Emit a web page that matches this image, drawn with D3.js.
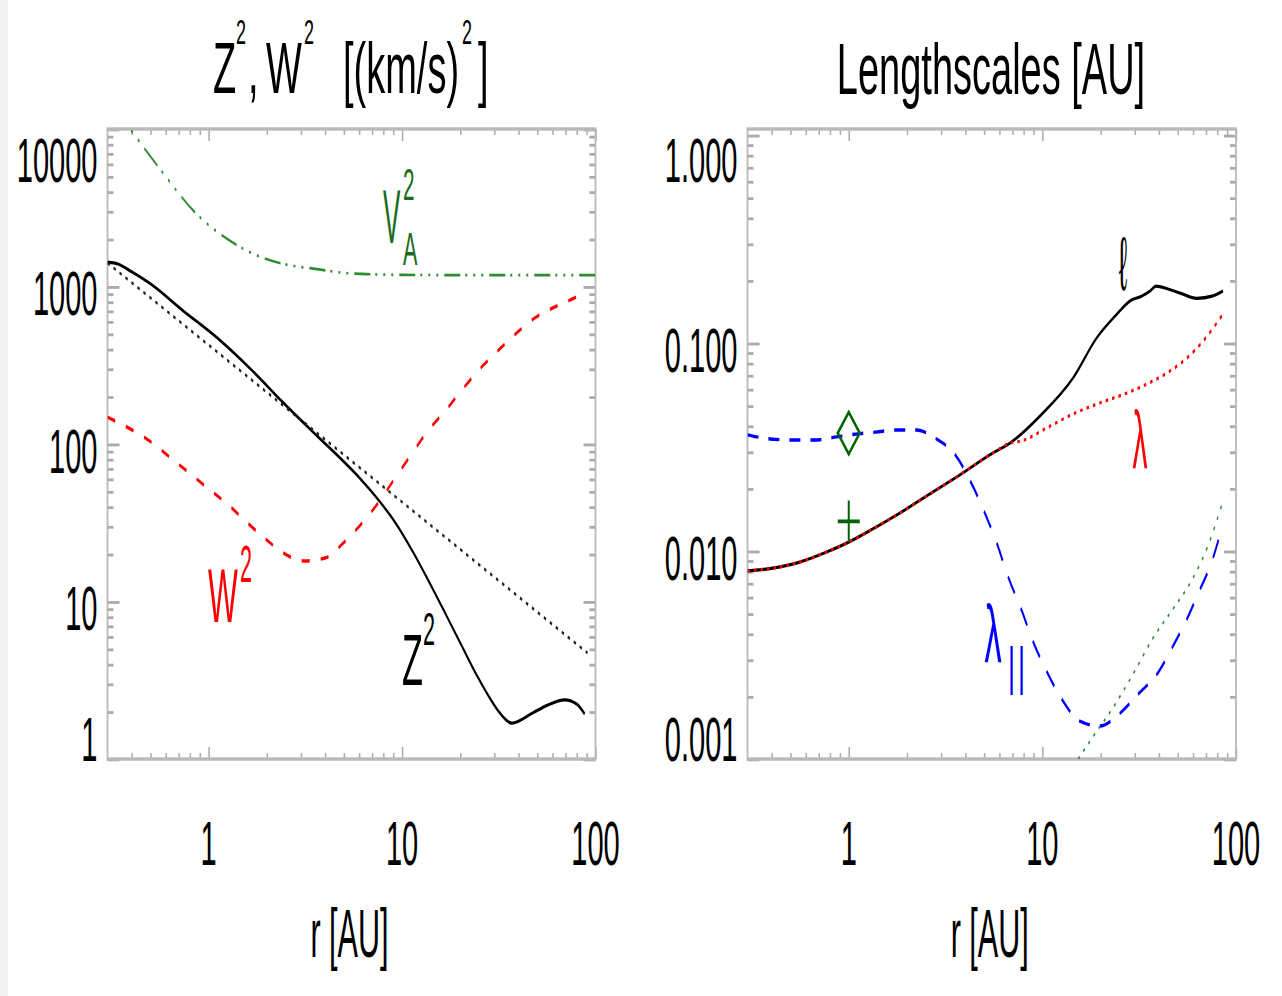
<!DOCTYPE html>
<html><head><meta charset="utf-8">
<script src="https://cdn.jsdelivr.net/npm/d3@7"></script>
<style>
html,body{margin:0;padding:0;background:#fff;}
svg{display:block;}
text{font-family:"Liberation Sans", Arial, Helvetica, sans-serif;}
</style></head><body>
<svg id="chart" width="1282" height="996"></svg>
<script>
// ---------------- data ----------------
// Left panel: Z^2, W^2, V_A^2 in (km/s)^2 versus r [AU]
const rZ2  = [0.30, 0.34, 0.40, 0.50, 0.74, 1.11, 1.65, 2.44, 3.65, 4.94, 6.04, 7.41, 9.18, 11.4, 13.9, 17.0, 20.6, 24.6, 28.4, 32.0, 36.9, 47.3, 56.6, 69.3, 80.0, 87.9];
const Z2   = [1430, 1390, 1240, 1040, 700, 471, 299, 182, 112, 78.3, 60.8, 45.4, 32.0, 20.6, 13.1, 8.09, 5.07, 3.32, 2.44, 1.96, 1.69, 1.96, 2.20, 2.37, 2.23, 1.93];
const rZ2asym = [0.30, 1.0, 10.0, 91.0];
const Z2asym  = [1410, 425, 42.8, 4.71];
const rW2  = [0.30, 0.514, 0.637, 0.807, 1.0, 1.25, 1.59, 1.97, 2.44, 3.09, 4.01, 4.97, 6.22, 7.52, 9.20, 11.3, 13.6, 16.7, 20.6, 25.2, 31.2, 39.1, 48.5, 60.0, 78.0, 87.8];
const W2   = [148, 101, 81.5, 64.5, 51.8, 41.6, 31.5, 24.9, 20.3, 18.1, 18.9, 23.5, 31.5, 42.2, 60.8, 87.7, 121, 162, 224, 299, 389, 507, 631, 730, 846, 910];
const rVA2 = [0.30, 0.41, 0.586, 0.837, 1.25, 1.71, 2.44, 3.64, 5.0, 7.0, 10.0, 30.0, 100.0];
const VA2  = [15500, 9300, 5180, 3015, 2000, 1608, 1390, 1290, 1220, 1195, 1185, 1180, 1180];

// Right panel: lengthscales [AU] versus r [AU]
const rEll = [0.30, 0.405, 0.558, 0.769, 1.0, 1.33, 1.83, 2.62, 3.61, 5.55, 6.79, 9.70, 14.4, 19.1, 24.3, 28.5, 32.5, 36.0, 38.6, 44.5, 51.4, 62.8, 75.2, 85.7];
const ell  = [0.00802, 0.00828, 0.00885, 0.00989, 0.01104, 0.01276, 0.0152, 0.0188, 0.0227, 0.0296, 0.0330, 0.0445, 0.0679, 0.106, 0.138, 0.160, 0.168, 0.178, 0.188, 0.182, 0.174, 0.164, 0.168, 0.178];
const rLam = [0.30, 0.405, 0.558, 0.769, 1.0, 1.33, 1.83, 2.62, 3.61, 5.55, 6.79, 7.93, 10.5, 14.4, 19.8, 27.3, 34.7, 44.0, 55.8, 67.5, 85.7];
const lam  = [0.00802, 0.00828, 0.00885, 0.00989, 0.01104, 0.01276, 0.0152, 0.0188, 0.0227, 0.0296, 0.0330, 0.0340, 0.0390, 0.0456, 0.0515, 0.0575, 0.0636, 0.0718, 0.0848, 0.102, 0.138];
const rLpar = [0.30, 0.405, 0.52, 0.667, 0.847, 1.09, 1.38, 1.77, 2.25, 2.85, 3.53, 4.32, 5.05, 5.82, 6.63, 7.84, 8.93, 10.5, 12.6, 15.6, 19.8, 25.2, 31.2, 39.1, 46.7, 55.8, 63.6, 76.1, 85.7];
const lpar  = [0.0362, 0.0345, 0.0342, 0.0342, 0.0353, 0.0365, 0.0373, 0.0382, 0.0382, 0.0345, 0.0292, 0.0210, 0.0152, 0.0109, 0.00759, 0.00515, 0.00369, 0.00265, 0.00194, 0.00152, 0.00144, 0.00166, 0.00205, 0.00256, 0.00342, 0.00471, 0.00621, 0.00925, 0.0136];
const rGreen = [15.3, 19.1, 23.1, 29.4, 37.3, 47.2, 59.9, 70.8, 85.7];
const green  = [0.001, 0.00136, 0.00176, 0.00256, 0.00382, 0.00526, 0.00741, 0.0103, 0.0174];
const diamondPt = [1.0, 0.0369];
const plusPt    = [1.0, 0.0139];

// axes
const xDomain = [0.3, 100];
const xMajor = [1, 10, 100];
const xMinor = [0.4,0.5,0.6,0.7,0.8,0.9,2,3,4,5,6,7,8,9,20,30,40,50,60,70,80,90];
const yLeftDomain = [1, 10000];
const yLeftMajor = [1, 10, 100, 1000, 10000];
const yLeftLabels = ["1", "10", "100", "1000", "10000"];
const yLeftMinor = [2,3,4,5,6,7,8,9,20,30,40,50,60,70,80,90,200,300,400,500,600,700,800,900,2000,3000,4000,5000,6000,7000,8000,9000];
const yRightDomain = [0.001, 1.07];
const yRightMajor = [0.001, 0.01, 0.1, 1];
const yRightLabels = ["0.001", "0.010", "0.100", "1.000"];
const yRightMinor = [0.002,0.003,0.004,0.005,0.006,0.007,0.008,0.009,0.02,0.03,0.04,0.05,0.06,0.07,0.08,0.09,0.2,0.3,0.4,0.5,0.6,0.7,0.8,0.9];

// ---------------- drawing ----------------
const K = 1.9;              // vertical stretch of the whole figure
const TOP = 129, BOT = 759; // screen px
const svg = d3.select("#chart");
svg.append("rect").attr("x",0).attr("y",0).attr("width",8).attr("height",996).attr("fill","#f2f2f2");
const root = svg.append("g").attr("transform", `scale(1,${K})`);

function txt(parent, s, x, yScreen, size, o = {}) {
  return parent.append("text")
    .attr("transform", `translate(${x},${yScreen / K}) scale(${o.tx || 1},1)`)
    .attr("font-size", size)
    .attr("text-anchor", o.anchor || "start")
    .attr("fill", o.fill || "#000")
    .attr("font-family", o.family || null)
    .attr("letter-spacing", o.ls || null)
    .text(s);
}

function makePanel(id, x0, x1, yDomain, yMajor, yMinor, yLabels) {
  const x = d3.scaleLog().domain(xDomain).range([x0, x1]);
  const y = d3.scaleLog().domain(yDomain).range([BOT / K, TOP / K]);
  const g = root.append("g");
  const clip = g.append("clipPath").attr("id", "clip" + id);
  clip.append("rect").attr("x", x0).attr("y", TOP / K).attr("width", x1 - x0).attr("height", (BOT - TOP) / K);

  const tickCol = "#ababab";
  const MAJ = 12, MIN = 6;
  function styleAxis(sel) {
    sel.attr("color", tickCol);
    sel.select(".domain").remove();
    sel.selectAll("line").attr("stroke-width", 1.5);
  }
  const ax = g.append("g");
  ax.append("g").attr("transform", `translate(0,${BOT / K})`).call(d3.axisBottom(x).tickValues(xMajor).tickSize(-MAJ / K).tickFormat("")).call(styleAxis);
  ax.append("g").attr("transform", `translate(0,${BOT / K})`).call(d3.axisBottom(x).tickValues(xMinor).tickSize(-MIN / K).tickFormat("")).call(styleAxis);
  ax.append("g").attr("transform", `translate(0,${TOP / K})`).call(d3.axisTop(x).tickValues(xMajor).tickSize(-MAJ / K).tickFormat("")).call(styleAxis);
  ax.append("g").attr("transform", `translate(0,${TOP / K})`).call(d3.axisTop(x).tickValues(xMinor).tickSize(-MIN / K).tickFormat("")).call(styleAxis);
  ax.append("g").attr("transform", `translate(${x0},0)`).call(d3.axisLeft(y).tickValues(yMajor).tickSize(-MAJ).tickFormat("")).call(styleAxis);
  ax.append("g").attr("transform", `translate(${x0},0)`).call(d3.axisLeft(y).tickValues(yMinor).tickSize(-MIN).tickFormat("")).call(styleAxis);
  ax.append("g").attr("transform", `translate(${x1},0)`).call(d3.axisRight(y).tickValues(yMajor).tickSize(-MAJ).tickFormat("")).call(styleAxis);
  ax.append("g").attr("transform", `translate(${x1},0)`).call(d3.axisRight(y).tickValues(yMinor).tickSize(-MIN).tickFormat("")).call(styleAxis);
  g.append("rect").attr("x", x0).attr("y", TOP / K).attr("width", x1 - x0).attr("height", (BOT - TOP) / K)
    .attr("fill", "none").attr("stroke", "#b9b9b9").attr("stroke-width", 1.8);

  // tick labels
  const lab = g.append("g");
  yMajor.forEach((t, i) => {
    let c = y(t) * K + 6;
    c = Math.max(TOP + 8 + 22.5, Math.min(BOT + 2 - 22.5, c));
    txt(lab, yLabels[i], x0 - 10, c + 22.5, 33, { anchor: "end", tx: 0.88 });
  });
  xMajor.forEach(t => {
    txt(lab, String(t), x(t), 865, 33, { anchor: "middle", tx: 0.88 });
  });
  txt(lab, "r [AU]", (x0 + x1) / 2 - 2, 957, 36, { anchor: "middle", tx: 0.85 });

  const plot = g.append("g").attr("clip-path", `url(#clip${id})`);
  return { x, y, g, plot };
}

function curve(P, rs, vs, style) {
  const line = d3.line().x(d => P.x(d[0])).y(d => P.y(d[1])).curve(d3.curveMonotoneX);
  P.plot.append("path").datum(rs.map((r, i) => [r, vs[i]]))
    .attr("d", line).attr("fill", "none")
    .attr("stroke", style.color).attr("stroke-width", style.width)
    .attr("stroke-dasharray", style.dash || null);
}

// ----- Left panel -----
const L = makePanel("L", 107.5, 595.5, yLeftDomain, yLeftMajor, yLeftMinor, yLeftLabels);
curve(L, rZ2, Z2, { color: "#000", width: 1.7 });
curve(L, rZ2asym, Z2asym, { color: "#222", width: 1.5, dash: "2.5,4" });
curve(L, rW2, W2, { color: "#ff0000", width: 1.8, dash: "8,11" });
curve(L, rVA2, VA2, { color: "#2e8b2e", width: 1.4, dash: "16,5,2,6,2,6,2,6" });

// left title: Z^2, W^2 [(km/s)^2]
const tl = L.g.append("g");
txt(tl, "Z", 213, 93, 38);
txt(tl, "2", 236, 44, 18);
txt(tl, ",", 248, 93, 38);
txt(tl, "W", 266, 93, 38);
txt(tl, "2", 304, 44, 18);
txt(tl, "[(km/s)", 343, 93, 38);
txt(tl, "2", 462, 44, 18);
txt(tl, "]", 478, 93, 38);

// left labels
const VG = "#1a6b1a";
txt(L.g, "V", 383, 243, 40, { tx: 0.65, fill: VG });
txt(L.g, "2", 403, 200, 23, { tx: 0.9, fill: VG });
txt(L.g, "A", 403, 265, 24, { tx: 0.9, fill: VG });
txt(L.g, "W", 208, 622, 39.5, { tx: 0.8, fill: "#ff0000" });
txt(L.g, "2", 240, 582, 27, { tx: 0.8, fill: "#ff0000" });
txt(L.g, "Z", 402, 685, 38, { tx: 0.9 });
txt(L.g, "2", 423, 645, 24, { tx: 0.9 });

// ----- Right panel -----
const R = makePanel("R", 747.5, 1236, yRightDomain, yRightMajor, yRightMinor, yRightLabels);
curve(R, rEll, ell, { color: "#000", width: 1.7 });
curve(R, rLam, lam, { color: "#ff0000", width: 1.7, dash: "2.5,4" });
curve(R, rLpar, lpar, { color: "#0000ff", width: 1.8, dash: "11,10" });
curve(R, rGreen, green, { color: "#2e8b2e", width: 1.3, dash: "2,4.5" });

// markers
const MG = "#006400";
{
  const cx = R.x(diamondPt[0]), cy = R.y(diamondPt[1]), w = 11, h = 11;
  R.g.append("path").attr("d", `M${cx},${cy - h}L${cx + w},${cy}L${cx},${cy + h}L${cx - w},${cy}Z`)
    .attr("fill", "none").attr("stroke", MG).attr("stroke-width", 2);
  const px = R.x(plusPt[0]), py = R.y(plusPt[1]);
  R.g.append("path").attr("d", `M${px - 11},${py}H${px + 11}M${px},${py - 11}V${py + 11}`)
    .attr("fill", "none").attr("stroke", MG).attr("stroke-width", 2);
}

txt(R.g, "Lengthscales [AU]", 991, 94, 38, { anchor: "middle" });
txt(R.g, "\u2113", 1123, 290, 40, { anchor: "middle", tx: 0.65, family: "DejaVu Sans" });
txt(R.g, "\u03bb", 1140, 468, 43, { anchor: "middle", tx: 0.7, fill: "#ff0000" });
txt(R.g, "\u03bb", 993, 662, 43, { anchor: "middle", tx: 0.8, fill: "#0000ff" });
txt(R.g, "||", 1008, 684, 27, { fill: "#0000ff", ls: 3 });
</script>
</body></html>
